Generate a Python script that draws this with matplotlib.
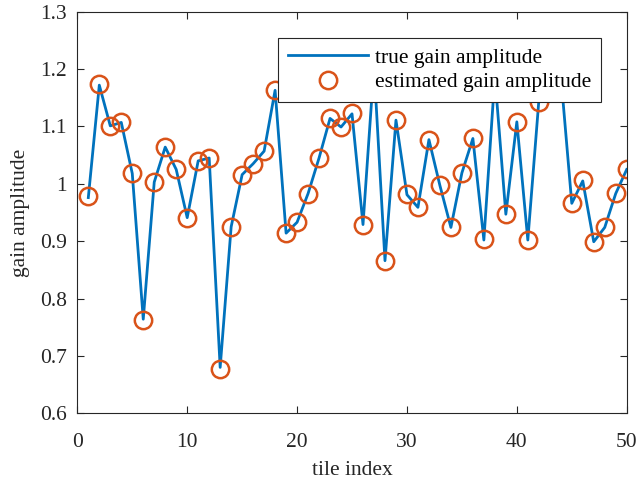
import numpy as np
import matplotlib
matplotlib.use('Agg')
import matplotlib.pyplot as plt

plt.rcParams['font.family'] = ['Liberation Serif', 'DejaVu Serif']
plt.rcParams['mathtext.fontset'] = 'stix'

tile = np.arange(1, 51)

# gain amplitude per tile
true_gain = [0.976, 1.172, 1.101, 1.107, 1.018, 0.764, 1.003, 1.064, 1.025, 0.941,
             1.040, 1.045, 0.680, 0.925, 1.016, 1.035, 1.057, 1.163, 0.914, 0.933,
             0.983, 1.045, 1.114, 1.099, 1.122, 0.929, 1.205, 0.866, 1.111, 0.981,
             0.959, 1.077, 0.997, 0.924, 1.019, 1.079, 0.902, 1.188, 0.947, 1.108,
             0.902, 1.144, 1.220, 1.190, 0.966, 1.005, 0.899, 0.924, 0.983, 1.025]
est_gain = [0.978, 1.174, 1.101, 1.108, 1.018, 0.762, 1.003, 1.064, 1.025, 0.941,
            1.040, 1.045, 0.678, 0.925, 1.016, 1.035, 1.057, 1.163, 0.914, 0.933,
            0.983, 1.045, 1.115, 1.099, 1.123, 0.929, 1.205, 0.865, 1.112, 0.982,
            0.959, 1.077, 0.998, 0.924, 1.019, 1.079, 0.903, 1.188, 0.947, 1.108,
            0.902, 1.143, 1.220, 1.190, 0.966, 1.006, 0.899, 0.924, 0.984, 1.025]

fs = 15.5

fig = plt.figure(figsize=(6.38, 4.88), dpi=100)
ax = fig.add_axes([0.1212, 0.1531, 0.8611, 0.8229])

ax.plot(tile, true_gain, color='#0072BD', lw=2.0, label='true gain amplitude')
ax.plot(tile, est_gain, 'o', mfc='none', mec='#D95319', mew=1.8, ms=12.5,
        label='estimated gain amplitude')

ax.set_xlim(0, 50)
ax.set_ylim(0.6, 1.3)
ax.set_xticks(np.arange(0, 51, 10))
ax.set_yticks(np.arange(0.6, 1.31, 0.1))
ax.set_yticklabels(['0.6', '0.7', '0.8', '0.9', '1', '1.1', '1.2', '1.3'])
ax.tick_params(direction='in', top=True, right=True, labelsize=fs,
               colors='#262626', length=5, width=0.8)
ax.tick_params(axis='y', pad=7.5)
ax.tick_params(axis='x', pad=14)
for s in ax.spines.values():
    s.set_color('#262626')
    s.set_linewidth(0.8)

ax.set_xlabel('tile index', fontsize=fs, color='#262626', labelpad=7)
ax.set_ylabel('gain amplitude', fontsize=fs, color='#262626', labelpad=7)

leg = ax.legend(loc='upper right', bbox_to_anchor=(0.953, 0.934), fontsize=fs,
                fancybox=False, framealpha=1, edgecolor='#262626',
                borderaxespad=0, handlelength=3.75, handletextpad=0.3,
                borderpad=0.45, labelspacing=0.2)
leg.get_frame().set_linewidth(0.8)

fig.savefig('out.png', dpi=100)
